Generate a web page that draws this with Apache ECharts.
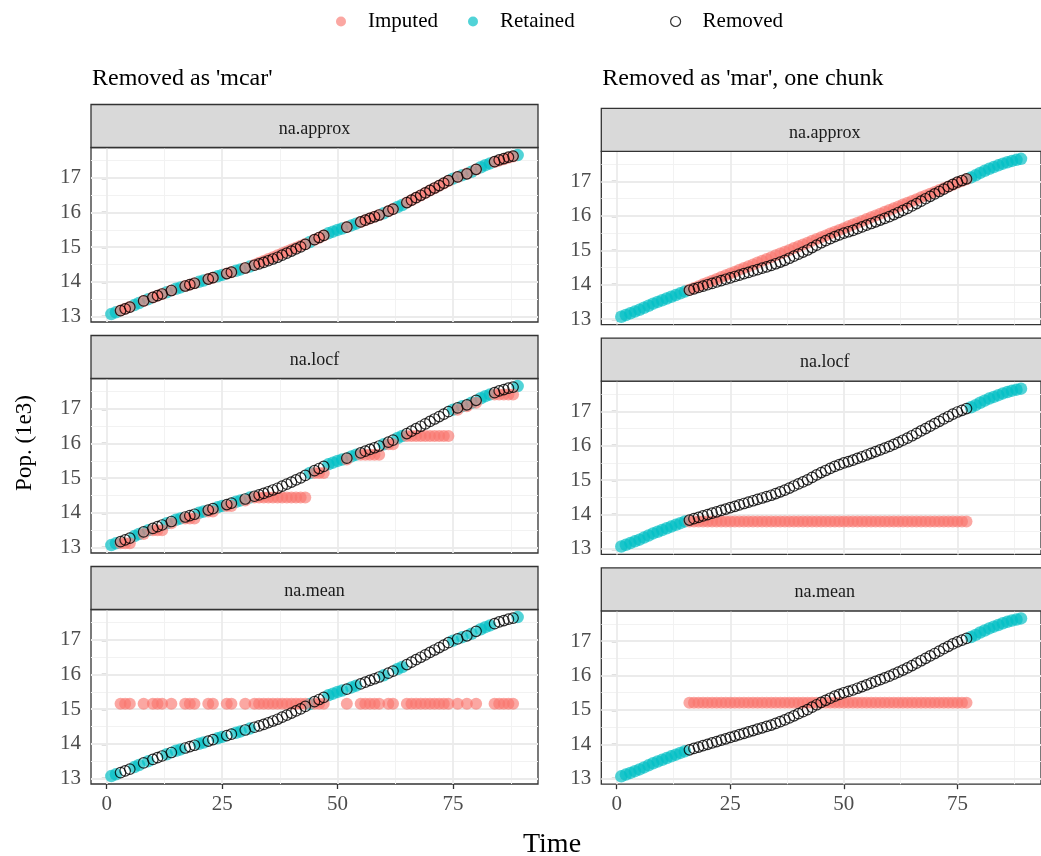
<!DOCTYPE html>
<html><head><meta charset="utf-8">
<script src="https://cdn.jsdelivr.net/npm/echarts@6/dist/echarts.min.js"></script>
<style>html,body{margin:0;padding:0;background:#fff}#c{width:1041px;height:856px}</style>
</head><body><div id="c"></div>
<script>
// ---------- data ----------
const time = [1,2,3,4,5,6,7,8,9,10,11,12,13,14,15,16,17,18,19,20,21,22,23,24,25,26,27,28,29,30,
  31,32,33,34,35,36,37,38,39,40,41,42,43,44,45,46,47,48,49,50,51,52,53,54,55,56,57,58,59,60,
  61,62,63,64,65,66,67,68,69,70,71,72,73,74,75,76,77,78,79,80,81,82,83,84,85,86,87,88,89];
const population = [13.07,13.12,13.17,13.22,13.27,13.33,13.39,13.45,13.50,13.55,
  13.60,13.65,13.70,13.75,13.80,13.84,13.88,13.92,13.96,14.00,
  14.04,14.08,14.12,14.16,14.20,14.24,14.28,14.32,14.36,14.40,
  14.44,14.48,14.52,14.56,14.61,14.66,14.71,14.77,14.83,14.89,
  14.95,15.01,15.08,15.15,15.22,15.28,15.34,15.40,15.45,15.50,
  15.54,15.58,15.63,15.68,15.73,15.78,15.83,15.88,15.93,15.98,
  16.04,16.10,16.16,16.22,16.29,16.36,16.43,16.50,16.57,16.64,
  16.71,16.78,16.85,16.92,16.98,17.03,17.08,17.12,17.18,17.25,
  17.31,17.37,17.42,17.47,17.52,17.56,17.60,17.63,17.66];
const removedMcar = [3,4,5,8,10,11,12,14,17,18,19,22,23,26,27,30,
  32,33,34,35,36,37,38,39,40,41,42,43,45,46,47,52,55,56,57,58,59,61,62,
  65,66,67,68,69,70,71,72,73,74,76,78,80,84,85,86,87,88];
const removedMar = [16,17,18,19,20,21,22,23,24,25,26,27,28,29,30,31,32,33,34,35,36,37,38,39,40,
  41,42,43,44,45,46,47,48,49,50,51,52,53,54,55,56,57,58,59,60,61,62,63,64,65,66,67,68,69,70,
  71,72,73,74,75,76,77];
const methods = ['na.approx','na.locf','na.mean'];
const columnTitles = ["Removed as 'mcar'", "Removed as 'mar', one chunk"];
const xTicks = [0,25,50,75];
const xMinor = [12.5,37.5,62.5,87.5];
const yTicks = [13,14,15,16,17];
const yMinor = [13.5,14.5,15.5,16.5,17.5];

// ---------- imputation (as the R functions do) ----------
function impute(method, removed){
  const rm = new Set(removed);
  const obs = time.filter(t=>!rm.has(t));
  const val = t => population[t-1];
  const meanObs = obs.reduce((s,t)=>s+val(t),0)/obs.length;
  return removed.map(t=>{
    let prev=null,next=null;
    for(const o of obs){ if(o<t) prev=o; if(o>t && next===null) next=o; }
    if(method==='na.mean') return [t, meanObs];
    if(method==='na.locf') return [t, val(prev)];
    return [t, val(prev) + (val(next)-val(prev))*(t-prev)/(next-prev)];
  });
}

// ---------- layout ----------
const FONT = 'Liberation Serif';
const cols = [
  {x:91,    stripTops:[104.5,335.5,566.5], plotH:174.5, removed:removedMcar},
  {x:601.3, stripTops:[108.3,338.1,567.9], plotH:173.3, removed:removedMar}
];
const STRIP_H = 43, PANEL_W = 447;
const C_IMP = 'rgba(248,118,109,0.8)', C_RET = 'rgba(0,191,196,0.85)';

const grid=[], xAxis=[], yAxis=[], series=[], graphic=[];
let gi = 0;
cols.forEach((col,ci)=>{
  graphic.push({type:'text', left:col.x+1, top:67, style:{text:columnTitles[ci], font:'24px '+FONT, fill:'#000'}});
  methods.forEach((m,ri)=>{
    const top = col.stripTops[ri] + STRIP_H;
    grid.push({left:col.x, top:top, width:PANEL_W, height:col.plotH, show:true,
      backgroundColor:'#fff', borderColor:'#333', borderWidth:1.3, containLabel:false});
    const bottom = ri===2;
    xAxis.push({type:'value', gridIndex:gi, min:-3.4, max:93.4,
      axisLine:{show:false}, splitLine:{show:false},
      axisTick:{show:bottom, customValues:xTicks, length:5, lineStyle:{color:'#333',width:1.3}},
      axisLabel:{show:bottom, customValues:xTicks, margin:10, fontFamily:FONT, fontSize:21, color:'#4D4D4D'}});
    yAxis.push({type:'value', gridIndex:gi, min:12.841, max:17.879,
      axisLine:{show:false}, splitLine:{show:false},
      axisTick:{show:true, customValues:yTicks, length:5, lineStyle:{color:'#333',width:1.3}},
      axisLabel:{show:true, customValues:yTicks, margin:10, fontFamily:FONT, fontSize:21, color:'#4D4D4D'}});
    // strip
    graphic.push({type:'rect', shape:{x:col.x, y:col.stripTops[ri], width:PANEL_W, height:STRIP_H},
      style:{fill:'#D9D9D9', stroke:'#333', lineWidth:1.3}, z:10});
    graphic.push({type:'text', x:col.x+PANEL_W/2, y:col.stripTops[ri]+STRIP_H/2+3,
      style:{text:m, font:'18px '+FONT, fill:'#1A1A1A', textAlign:'center', textVerticalAlign:'middle'}, z:11});
    // grid lines
    const major = {color:'#EBEBEB', width:1.8, type:'solid'};
    const minor = {color:'#F2F2F2', width:1, type:'solid'};
    series.push({type:'scatter', xAxisIndex:gi, yAxisIndex:gi, data:[], silent:true, z:1,
      markLine:{silent:true, z:1, symbol:['none','none'], label:{show:false}, animation:false,
        emphasis:{disabled:true},
        data:[...xMinor.map(v=>({xAxis:v, lineStyle:minor})), ...yMinor.map(v=>({yAxis:v, lineStyle:minor})),
              ...xTicks.map(v=>({xAxis:v, lineStyle:major})), ...yTicks.map(v=>({yAxis:v, lineStyle:major}))]}});
    const rm = new Set(col.removed);
    series.push({name:'Retained', type:'scatter', xAxisIndex:gi, yAxisIndex:gi, z:3, symbolSize:12.5,
      itemStyle:{color:C_RET}, data: time.filter(t=>!rm.has(t)).map(t=>[t, population[t-1]])});
    series.push({name:'Imputed', type:'scatter', xAxisIndex:gi, yAxisIndex:gi, z:4, symbolSize:12,
      itemStyle:{color:C_IMP}, data: impute(m, col.removed)});
    series.push({name:'Removed', type:'scatter', xAxisIndex:gi, yAxisIndex:gi, z:6, symbolSize:10.5,
      itemStyle:{color:'rgba(0,0,0,0)', borderColor:'#000', borderWidth:1.2},
      data: col.removed.map(t=>[t, population[t-1]])});
    gi++;
  });
});
graphic.push({type:'text', x:25, y:443, rotation:Math.PI/2,
  style:{text:'Pop. (1e3)', font:'23px '+FONT, fill:'#000', textAlign:'center', textVerticalAlign:'middle'}});
graphic.push({type:'text', x:552, y:845,
  style:{text:'Time', font:'28px '+FONT, fill:'#000', textAlign:'center', textVerticalAlign:'middle'}});

const legTxt = {fontFamily:FONT, fontSize:21, color:'#000'};
const legend = [
  {left:331, top:6, itemWidth:44, itemHeight:10, selectedMode:false, textStyle:legTxt, data:[{name:'Imputed', icon:'circle'}]},
  {left:463, top:6, itemWidth:44, itemHeight:10, selectedMode:false, textStyle:legTxt, data:[{name:'Retained', icon:'circle'}]},
  {left:665, top:6, itemWidth:44, itemHeight:10, selectedMode:false, textStyle:legTxt,
   data:[{name:'Removed', icon:'circle', itemStyle:{color:'#fff', borderColor:'#000', borderWidth:1.2}}]}
];

const chart = echarts.init(document.getElementById('c'), null, {renderer:'canvas'});
chart.setOption({animation:false, backgroundColor:'#fff', grid, xAxis, yAxis, series, graphic, legend});
</script></body></html>
